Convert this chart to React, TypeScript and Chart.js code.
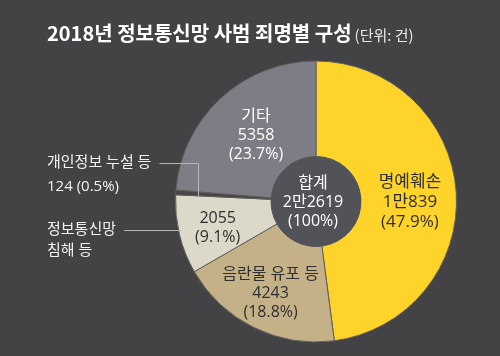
import React, { useEffect, useRef } from "react";
import { Chart, registerables } from "chart.js";

Chart.register(...registerables);

const titleText = "2018년 정보통신망 사범 죄명별 구성";
const unitText = "(단위: 건)";
const categories = ["명예훼손", "음란물 유포 등", "정보통신망 침해 등", "개인정보 누설 등", "기타"];
const values = [10839, 4243, 2055, 124, 5358];
const valueLabels = ["1만839", "4243", "2055", "124", "5358"];
const percentLabels = ["47.9%", "18.8%", "9.1%", "0.5%", "23.7%"];
const totalLabel = "합계";
const totalValue = "2만2619";
const totalPercent = "100%";

const sliceColors = ["#FFD42A", "#C5B188", "#DCD9C8", "#4A4447", "#7E7D86"];
const FONT = '"Noto Sans CJK KR", "Noto Sans", sans-serif';
const LFONT = '"Open Sans", "Noto Sans CJK KR", sans-serif';
const BG = "#434346";

const labelPlugin = {
  id: "labelPlugin",
  beforeDraw(chart: any) {
    const ctx = chart.ctx;
    ctx.save();
    ctx.fillStyle = BG;
    ctx.fillRect(0, 0, chart.width, chart.height);
    ctx.restore();
  },
  afterDatasetsDraw(chart: any) {
    const ctx = chart.ctx;
    const meta = chart.getDatasetMeta(0);
    const a0 = meta.data[0];
    ctx.save();
    ctx.fillStyle = "#525358";
    ctx.beginPath();
    ctx.arc(a0.x, a0.y, a0.innerRadius, 0, Math.PI * 2);
    ctx.fill();
    ctx.restore();
  },
  afterDraw(chart: any) {
    const ctx = chart.ctx;
    const meta = chart.getDatasetMeta(0);
    ctx.save();
    // title
    ctx.textBaseline = "middle";
    ctx.textAlign = "left";
    ctx.fillStyle = "#ffffff";
    ctx.font = `bold 20px ${FONT}`;
    ctx.fillText(titleText, 47, 33);
    const tw = ctx.measureText(titleText).width;
    ctx.font = `15px ${FONT}`;
    ctx.fillStyle = "#e8e8e8";
    ctx.fillText(unitText, 47 + tw + 3, 35);

    const drawBlock = (lines: string[], x: number, y: number, size: number, color: string, lh: number) => {
      ctx.font = `${size}px ${LFONT}`;
      ctx.fillStyle = color;
      ctx.textAlign = "center";
      const top = y - ((lines.length - 1) * lh) / 2;
      lines.forEach((l, k) => ctx.fillText(l, x, top + k * lh));
    };

    const fracs = [0.67, 0.73, 0.72, 0.84, 0.63];
    const nudgeY = [7, 0, 3, 0, -1];
    const sizes = [17, 16, 16, 16, 16];
    const colors = ["#2f2f2f", "#2f2f2f", "#2f2f2f", "#ffffff", "#ffffff"];
    const pos: { x: number; y: number }[] = [];
    meta.data.forEach((arc: any, i: number) => {
      const mid = (arc.startAngle + arc.endAngle) / 2;
      const r = arc.outerRadius * fracs[i];
      pos.push({ x: arc.x + Math.cos(mid) * r, y: arc.y + Math.sin(mid) * r });
    });
    // inside labels
    drawBlock([categories[0], valueLabels[0], `(${percentLabels[0]})`], pos[0].x, pos[0].y + nudgeY[0], sizes[0], colors[0], 20);
    drawBlock([categories[1], valueLabels[1], `(${percentLabels[1]})`], pos[1].x, pos[1].y + nudgeY[1], sizes[1], colors[1], 19);
    drawBlock([valueLabels[2], `(${percentLabels[2]})`], pos[2].x, pos[2].y + nudgeY[2], sizes[2], colors[2], 19);
    drawBlock([categories[4], valueLabels[4], `(${percentLabels[4]})`], pos[4].x, pos[4].y + nudgeY[4], sizes[4], colors[4], 19);
    // center
    const a0 = meta.data[0];
    drawBlock([totalLabel, totalValue, `(${totalPercent})`], a0.x - 3, a0.y + 1, 16, "#ffffff", 19);

    // outside labels
    ctx.textAlign = "left";
    ctx.font = `15px ${LFONT}`;
    ctx.fillStyle = "#f2f2f2";
    ctx.fillText(categories[3], 47, 163);
    ctx.fillText(`${valueLabels[3]} (${percentLabels[3]})`, 47, 187);
    const parts = categories[2].split(" ");
    const l1 = parts[0];
    const l2 = parts.slice(1).join(" ");
    ctx.fillText(l1, 47, 230);
    ctx.fillText(l2, 47, 251);

    ctx.strokeStyle = "#b4b4b4";
    ctx.lineWidth = 1;
    // leader for 개인정보
    const w1 = ctx.measureText(categories[3]).width;
    ctx.beginPath();
    ctx.moveTo(47 + w1 + 8, 163.5);
    ctx.lineTo(Math.round(pos[3].x) + 0.5, 163.5);
    ctx.lineTo(Math.round(pos[3].x) + 0.5, pos[3].y + 3);
    ctx.stroke();
    // leader for 정보통신망
    const w2 = ctx.measureText(l1).width;
    const dy = 230 - a0.y;
    const edgeX = a0.x - Math.sqrt(a0.outerRadius * a0.outerRadius - dy * dy);
    ctx.beginPath();
    ctx.moveTo(47 + w2 + 8, 230.5);
    ctx.lineTo(edgeX + 2, 230.5);
    ctx.stroke();
    ctx.restore();
  },
};

export default function App() {
  const ref = useRef<HTMLCanvasElement | null>(null);
  useEffect(() => {
    document.body.style.margin = "0";
    const chart = new Chart(ref.current as HTMLCanvasElement, {
      type: "doughnut",
      data: {
        labels: categories,
        datasets: [
          {
            data: values,
            backgroundColor: sliceColors,
            borderColor: "#5e5e5e",
            borderWidth: 1,
          },
        ],
      },
      options: {
        responsive: false,
        animation: false,
        cutout: "32%",
        layout: { padding: { left: 175, right: 43, top: 60, bottom: 13 } },
        plugins: { legend: { display: false }, tooltip: { enabled: false }, title: { display: false } },
      },
      plugins: [labelPlugin],
    });
    return () => chart.destroy();
  }, []);
  return (
    <div style={{ position: "absolute", left: 0, top: 0, width: 500, height: 356 }}>
      <canvas ref={ref} width={500} height={356} style={{ width: 500, height: 356 }} />
    </div>
  );
}
